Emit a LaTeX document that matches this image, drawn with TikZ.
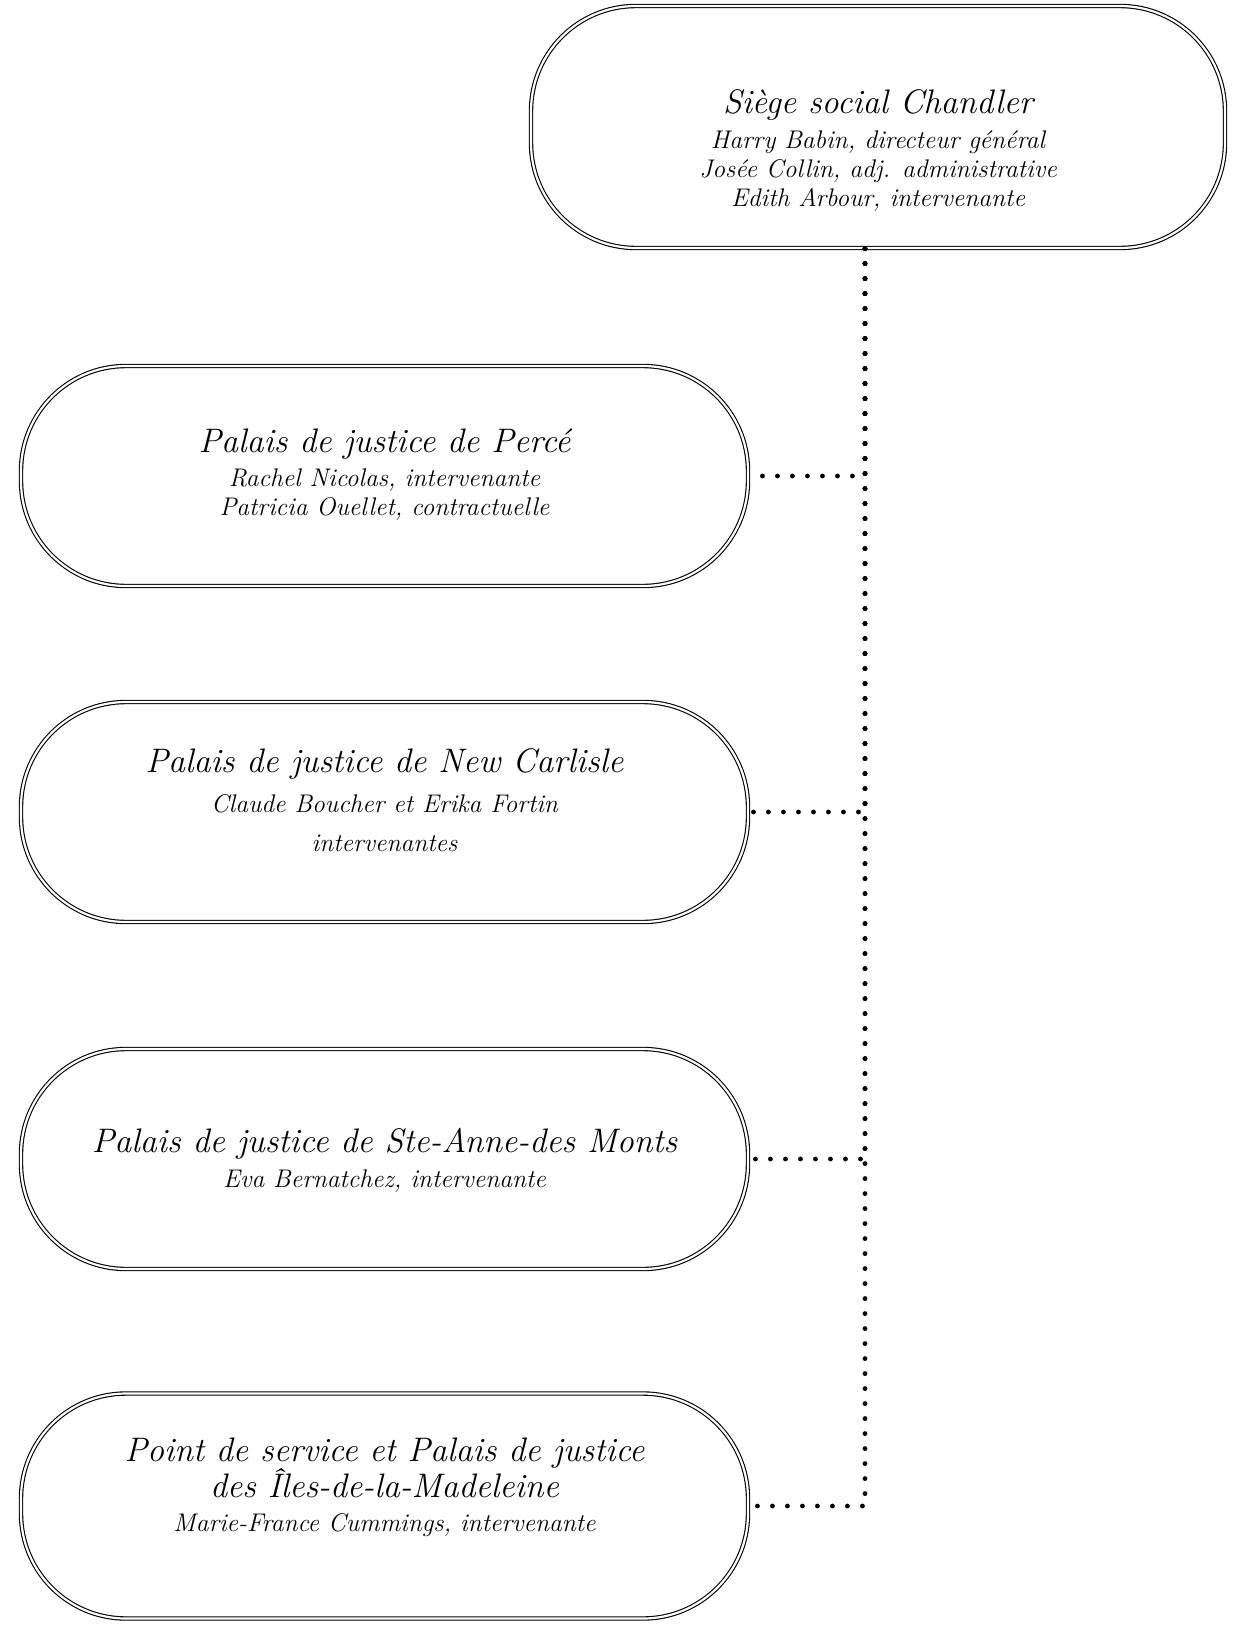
\documentclass[tikz,border=0pt]{standalone}
\usepackage{fontspec}
\newcommand{\tfont}{\fontsize{34}{38}\selectfont}
\newcommand{\sfontx}{\fontsize{25.5}{29}\selectfont}
\begin{document}
\begin{tikzpicture}[x=1pt,y=-1pt,
  box/.style={draw, double, double distance=2.2pt, line width=1.1pt,
    rounded corners=105pt, minimum width=727pt, minimum height=220pt, inner sep=0pt},
  topbox/.style={box, minimum width=694pt, minimum height=242pt},
  txt/.style={align=center, font=\sfontx\itshape, inner sep=0pt},
  conn/.style={line width=4.8pt, line cap=round, dash pattern=on 0pt off 15pt}
]
\useasboundingbox[fill=white] (0,0) rectangle (1232,1625);

\node[topbox] (top) at (878,127) {};
\node[box] (b1) at (384.5,476) {};
\node[box] (b2) at (384.5,812) {};
\node[box] (b3) at (384.5,1159) {};
\node[box, minimum height=225pt] (b4) at (384.5,1506) {};

\node[txt] (t0) at (878,150) {{\tfont Siège social Chandler}\\[6pt] Harry Babin, directeur général\\ Josée Collin, adj. administrative\\ Edith Arbour, intervenante};
\node[txt] (t1) at (384.5,475) {{\tfont Palais de justice de Percé}\\[5pt] Rachel Nicolas, intervenante\\ Patricia Ouellet, contractuelle};
\node[txt] (t2) at (384.5,800) {{\tfont Palais de justice de New Carlisle}\\[11pt] Claude Boucher et Erika Fortin\\[10pt] intervenantes};
\node[txt] (t3) at (384.5,1160) {{\tfont Palais de justice de Ste-Anne-des Monts}\\[6pt] Eva Bernatchez, intervenante};
\node[txt] (t4) at (384.5,1487) {{\tfont Point de service et Palais de justice}\\[-1pt] {\tfont des Îles-de-la-Madeleine}\\[5pt] Marie-France Cummings, intervenante};

\coordinate (j) at ([xshift=-13pt]top.south);
\draw[conn] (j) |- (b1.east);
\draw[conn] (j) |- (b2.east);
\draw[conn] (j) |- (b3.east);
\draw[conn] (j) |- (b4.east);
\end{tikzpicture}
\end{document}
